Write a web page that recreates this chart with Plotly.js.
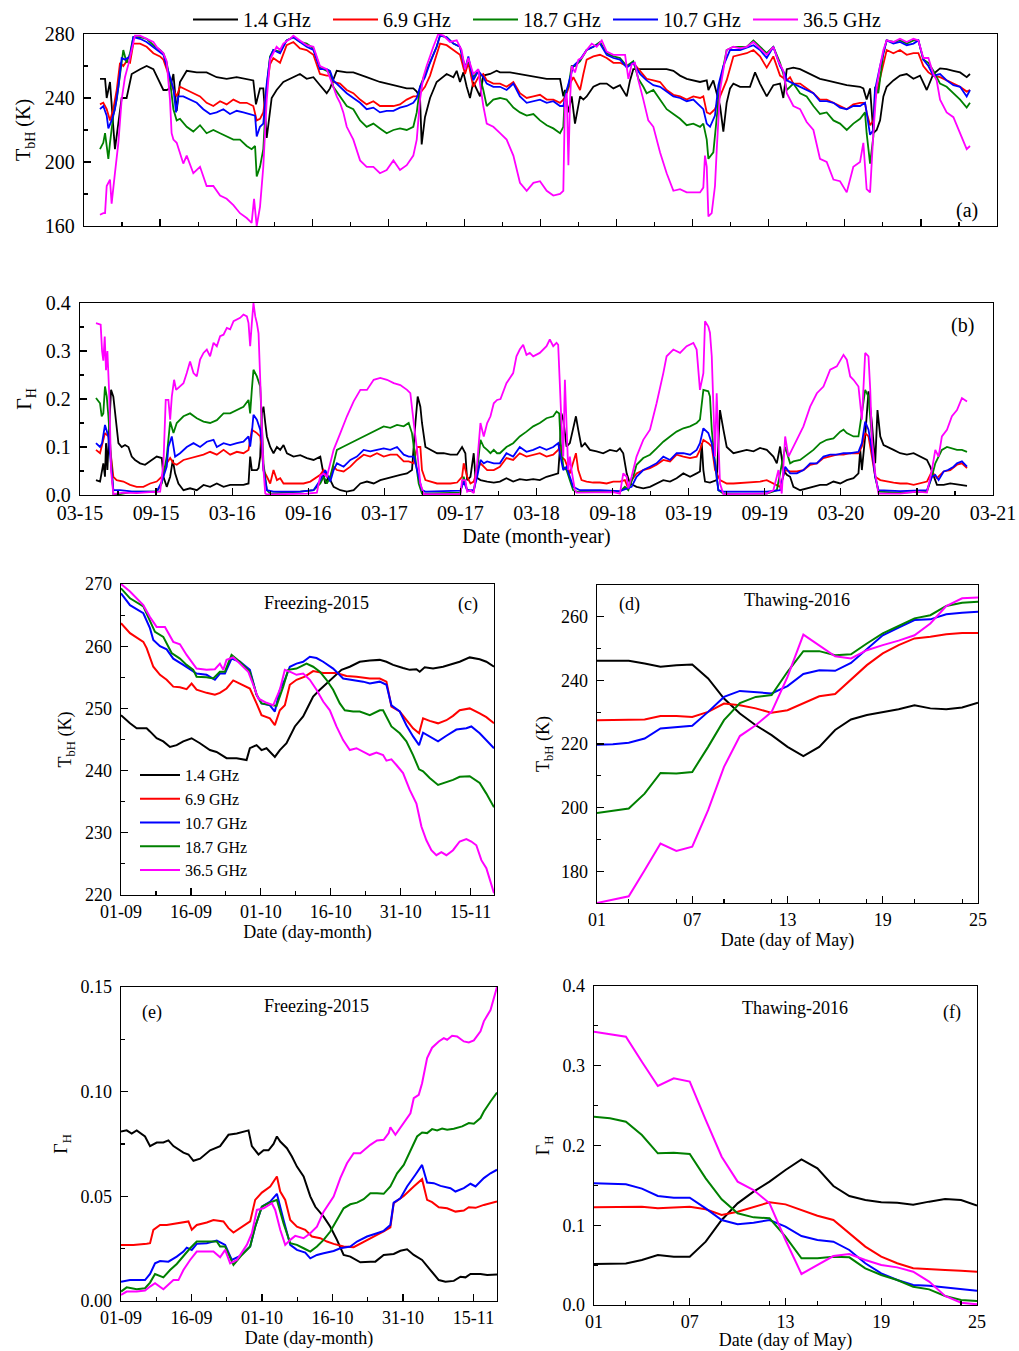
<!DOCTYPE html>
<html><head><meta charset="utf-8">
<script src="https://cdn.plot.ly/plotly-3.0.1.min.js"></script>
<style>body{margin:0;background:#fff}#chart{width:1019px;height:1351px}</style>
</head><body><div id="chart"></div>
<script>
// ---------- DATA ----------
// Panels (a),(b): x = months since March 2015
const monthTickVals = [0,6,12,18,24,30,36,42,48,54,60,66,72];
const monthTickText = ['03-15','09-15','03-16','09-16','03-17','09-17','03-18','09-18','03-19','09-19','03-20','09-20','03-21'];
const seriesNames = ['1.4 GHz','6.9 GHz','10.7 GHz','18.7 GHz','36.5 GHz'];

// (a) TbH (K)
const aBlack = [[1.26,252],[1.66,252],[1.79,240],[2.05,250],[2.44,208],[2.97,240],[3.36,240],[3.76,255],[4.42,258],[4.94,260],[5.47,258],[5.99,250],[6.26,245],[6.52,245],[6.78,246],[7.05,255],[7.31,232],[7.57,250],[8.10,257],[8.89,256],[9.67,256],[10.46,253],[11.25,252],[12.04,253],[12.83,252],[13.35,251],[13.56,236],[13.88,246],[14.14,246],[14.41,215],[14.80,240],[15.19,245],[15.72,250],[16.51,253],[17.03,255],[17.56,252],[18.09,253],[18.61,248],[19.14,243],[19.40,246],[19.66,252],[19.93,257],[20.72,256],[21.24,256],[22.29,253],[23.34,250],[24.40,248],[25.45,246],[25.97,246],[26.24,244],[26.50,240],[26.63,211],[26.89,228],[27.29,240],[27.81,250],[28.60,255],[29.13,253],[29.39,257],[29.65,250],[29.92,256],[30.18,247],[30.44,240],[30.70,250],[31.23,241],[31.49,254],[32.02,255],[32.54,257],[32.81,256],[33.60,256],[34.38,255],[35.44,253.5],[36.49,252],[37.54,252],[37.80,241],[37.93,245],[38.20,231],[38.46,241],[38.72,224],[39.12,241],[39.38,239],[39.64,241],[40.17,247],[40.69,249],[41.22,249],[41.75,246],[42.27,248],[42.80,241],[43.06,251],[43.32,258],[44.37,258],[45.95,258],[46.48,257],[47.00,254],[47.53,252],[48.05,251],[48.58,250],[49.11,251],[49.24,245],[49.63,251],[50.16,235],[50.42,219],[50.68,237],[50.95,246],[51.21,249],[51.74,247],[52.52,247],[52.92,256],[53.31,249],[53.84,241],[54.36,248],[54.89,249],[55.15,240],[55.42,258],[55.94,259],[56.47,258],[56.99,256],[57.52,254],[58.04,252],[58.57,251],[59.10,250],[59.62,249],[60.15,248],[61.20,247],[61.46,246],[61.72,239],[61.99,246],[62.25,218],[62.51,220],[62.78,226],[63.04,241],[63.30,247],[63.83,251],[64.35,254],[64.88,255],[65.41,252],[65.93,254],[66.46,245],[66.98,255],[67.51,258.5],[68.03,258],[68.56,257],[69.09,256],[69.61,253],[69.87,255]];
const aRed = [[1.26,236],[1.52,237],[1.79,233],[2.05,226],[2.31,233],[2.58,245],[2.84,262],[3.10,260],[3.36,263],[3.63,262],[3.89,274],[4.42,274],[4.94,272],[5.47,268],[5.99,266],[6.26,264],[6.52,258],[6.78,251],[7.05,245],[7.31,241],[7.57,247],[8.10,245],[8.62,243],[9.15,241],[9.67,237],[10.20,235],[10.73,238],[11.25,236],[11.78,239],[12.30,237],[12.83,237],[13.35,235],[13.62,226],[13.88,227],[14.14,231],[14.41,247],[14.67,261],[14.93,265],[15.46,262],[15.98,273],[16.51,275],[17.03,271],[17.56,270],[18.09,267],[18.61,255],[19.14,254],[19.40,254],[19.66,250],[20.19,249],[20.72,245],[21.24,243],[21.77,239],[22.29,236],[22.82,238],[23.34,235],[23.87,235],[24.40,235],[24.92,236],[25.45,239],[25.97,241],[26.24,241],[26.50,243],[26.89,247],[27.29,254],[27.81,268],[28.08,274],[28.60,273],[29.13,270],[29.65,267],[30.05,255],[30.31,262],[30.70,247],[31.10,253],[31.49,255],[31.76,251],[32.28,249],[32.81,249],[33.33,247],[33.86,250],[34.38,243],[34.91,240],[35.44,241],[35.96,242],[36.49,239],[37.01,239],[37.54,237],[37.80,239],[38.07,243],[38.33,249],[38.59,253],[39.12,245],[39.38,255],[39.64,264],[40.17,266],[40.69,267],[41.22,265],[41.75,262],[42.27,262],[42.80,260],[43.32,262],[43.85,257],[44.37,252],[44.90,251],[45.43,250],[45.95,245],[46.48,242],[47.00,241],[47.53,239],[48.05,241],[48.58,240],[48.84,241],[49.11,231],[49.37,230],[49.76,233],[50.16,241],[50.68,251],[51.21,266],[51.74,267],[52.26,268],[52.79,270],[53.31,266],[53.84,259],[54.36,266],[54.89,254],[55.42,251],[55.68,253],[55.94,249],[56.47,249],[56.99,246],[57.52,243],[58.04,239],[58.57,239],[59.10,237],[59.62,235],[60.15,233],[60.67,236],[61.20,237],[61.59,237],[61.72,231],[61.99,223],[62.25,226],[62.38,239],[62.78,253],[63.30,270],[63.83,268],[64.35,270],[64.88,267],[65.41,268],[65.80,268],[66.19,260],[66.59,256],[66.98,254],[67.51,253],[68.03,251],[68.56,249],[69.09,247],[69.61,244],[69.87,245]];
const aBlue = [[1.26,233],[1.52,235],[1.79,229],[1.92,221],[2.18,226],[2.44,233],[2.71,247],[2.97,265],[3.23,264],[3.63,266],[3.89,278],[4.42,277],[4.94,275],[5.47,272],[5.99,269],[6.26,267],[6.52,260],[6.78,253],[7.05,246],[7.26,231],[7.44,241],[7.83,241],[8.36,239],[8.89,237],[9.41,233],[9.94,230],[10.46,231],[10.99,233],[11.51,230],[12.04,232],[12.57,231],[13.09,230],[13.49,229],[13.62,216],[13.88,222],[14.14,224],[14.41,249],[14.67,265],[14.93,270],[15.46,268],[15.98,276],[16.51,278],[17.03,275],[17.56,272],[18.09,270],[18.61,258],[19.14,258],[19.40,257],[19.66,251],[20.19,247],[20.72,243],[21.24,240],[21.77,237],[22.29,233],[22.82,234],[23.34,231],[23.87,232],[24.40,232],[24.92,234],[25.45,235],[25.97,237],[26.24,240],[26.50,247],[26.89,253],[27.29,262],[27.81,272],[28.08,279],[28.60,278],[29.13,274],[29.65,272],[30.05,258],[30.31,266],[30.70,251],[31.10,257],[31.49,253],[31.76,249],[32.28,247],[32.81,247],[33.33,245],[33.86,249],[34.38,241],[34.91,237],[35.44,238],[35.96,239],[36.49,237],[37.01,238],[37.54,235],[37.80,235],[38.07,245],[38.33,253],[38.59,260],[39.12,264],[39.64,270],[40.17,272],[40.69,274],[41.22,267],[41.75,265],[42.27,264],[42.80,259],[43.32,262],[43.85,255],[44.37,251],[44.90,248],[45.43,247],[45.95,244],[46.48,241],[47.00,240],[47.53,238],[48.05,239],[48.58,235],[48.84,233],[49.11,224],[49.37,222],[49.76,229],[50.03,248],[50.42,260],[50.95,270],[51.74,270],[52.79,273],[53.31,270],[53.84,265],[54.36,272],[54.89,260],[55.28,255],[55.42,251],[55.94,249],[56.47,247],[56.99,245],[57.52,243],[58.04,238],[58.57,238],[59.10,237],[59.62,234],[60.15,233],[60.67,235],[61.20,235],[61.59,237],[61.72,231],[61.99,217],[62.25,220],[62.38,245],[62.78,260],[63.30,276],[63.83,274],[64.35,275],[64.88,273],[65.41,274],[65.80,276],[66.19,264],[66.59,260],[66.98,254],[67.51,255],[68.03,251],[68.56,248],[69.09,247],[69.61,241],[69.87,245]];
const aGreen = [[1.26,208],[1.52,212],[1.66,218],[1.79,210],[1.92,202],[2.05,212],[2.31,229],[2.58,239],[2.84,253],[3.10,270],[3.36,262],[3.63,268],[3.89,278],[4.42,278],[4.94,277],[5.47,273],[5.99,270],[6.26,268],[6.52,262],[6.78,251],[7.05,233],[7.31,226],[7.57,227],[8.10,222],[8.62,219],[9.15,223],[9.67,218],[10.20,220],[10.73,218],[11.25,216],[11.78,214],[12.30,214],[12.83,210],[13.22,208],[13.49,210],[13.62,191],[13.88,197],[14.14,208],[14.41,247],[14.67,266],[14.93,270],[15.46,269],[15.98,276],[16.51,278],[17.03,275],[17.56,274],[18.09,271],[18.61,259],[19.14,257],[19.40,256],[19.66,247],[20.19,241],[20.72,235],[21.24,233],[21.77,226],[22.29,222],[22.82,224],[23.34,221],[23.87,218],[24.40,220],[24.92,221],[25.45,220],[25.97,222],[26.24,231],[26.50,247],[26.89,255],[27.29,262],[27.81,272],[28.08,279],[28.60,278],[29.13,274],[29.65,272],[30.05,259],[30.31,264],[30.70,253],[31.10,257],[31.49,245],[31.76,235],[32.28,239],[32.81,240],[33.33,239],[33.86,234],[34.38,231],[34.91,229],[35.44,230],[35.96,226],[36.49,223],[37.01,221],[37.54,218],[37.80,222],[37.93,243],[38.20,247],[38.46,260],[38.72,260],[39.12,263],[39.64,270],[40.17,272],[40.69,275],[41.22,268],[41.75,266],[42.27,265],[42.80,260],[43.32,263],[43.72,252],[44.11,247],[44.37,243],[44.90,245],[45.43,239],[45.95,233],[46.48,230],[47.00,227],[47.53,223],[48.05,224],[48.58,222],[48.84,224],[49.11,214],[49.24,202],[49.63,206],[49.90,229],[50.16,249],[50.68,270],[51.21,272],[51.74,272],[52.26,272],[52.79,276],[53.31,272],[53.84,268],[54.36,272],[54.89,262],[55.15,255],[55.42,245],[55.94,249],[56.47,243],[56.99,241],[57.52,235],[58.04,230],[58.57,231],[59.10,226],[59.62,224],[60.15,220],[60.67,224],[61.20,227],[61.59,231],[61.72,218],[61.99,199],[62.25,216],[62.38,247],[62.64,243],[63.04,268],[63.30,276],[63.83,275],[64.35,276],[64.88,274],[65.41,276],[65.80,276],[66.19,264],[66.59,262],[66.98,257],[67.51,249],[68.03,247],[68.56,243],[69.09,239],[69.61,234],[69.87,237]];
const aMagenta = [[1.26,167],[1.52,168],[1.66,168],[1.79,185],[2.05,189],[2.18,174],[2.44,193],[2.71,212],[2.97,239],[3.23,253],[3.50,261],[3.76,270],[4.02,279],[4.42,279],[4.94,277],[5.47,275],[5.73,272],[5.99,270],[6.26,268],[6.52,263],[6.65,253],[6.78,239],[6.91,218],[7.05,214],[7.31,212],[7.57,206],[7.83,199],[8.10,204],[8.62,193],[9.15,197],[9.67,185],[10.20,185],[10.73,179],[11.25,177],[11.78,173],[12.30,168],[12.83,165],[13.22,162],[13.41,177],[13.62,160],[13.88,172],[14.14,197],[14.41,239],[14.67,264],[14.93,268],[15.19,272],[15.46,270],[15.72,274],[16.25,277],[16.51,279],[17.03,276],[17.56,273],[18.09,272],[18.61,260],[19.14,258],[19.40,253],[19.66,247],[19.93,241],[20.19,237],[20.45,231],[20.72,222],[21.24,214],[21.77,201],[22.29,197],[22.82,197],[23.34,193],[23.87,195],[24.40,201],[24.92,195],[25.45,198],[25.97,204],[26.24,214],[26.50,239],[26.76,253],[27.02,260],[27.55,272],[27.94,280],[28.34,279],[28.86,275],[29.39,276],[29.78,270],[30.05,258],[30.31,265],[30.70,255],[31.10,258],[31.23,249],[31.49,235],[31.76,224],[32.28,222],[32.81,218],[33.33,214],[33.86,204],[34.38,187],[34.91,182],[35.44,187],[35.96,188],[36.49,182],[37.01,179],[37.54,180],[37.80,182],[37.93,239],[38.07,243],[38.20,198],[38.33,239],[38.46,260],[38.72,256],[38.99,264],[39.25,265],[39.64,270],[40.04,274],[40.43,272],[40.83,276],[41.22,269],[41.75,267],[42.27,267],[42.67,267],[42.93,252],[43.19,261],[43.45,262],[43.72,251],[44.11,239],[44.50,226],[44.90,222],[45.43,206],[45.95,193],[46.48,182],[47.00,183],[47.53,181],[48.05,181],[48.58,181],[48.84,184],[48.97,204],[49.11,197],[49.24,166],[49.50,168],[49.76,185],[49.90,208],[50.16,245],[50.68,270],[51.21,272],[51.74,271],[52.26,272],[52.79,275],[53.31,271],[53.84,267],[54.36,272],[54.76,263],[55.15,257],[55.42,243],[55.94,235],[56.47,233],[56.99,225],[57.52,220],[58.04,202],[58.57,200],[59.10,189],[59.62,188],[60.15,181],[60.67,197],[61.20,200],[61.46,212],[61.72,183],[61.99,181],[62.25,218],[62.51,247],[62.78,260],[63.04,270],[63.30,276],[63.83,275],[64.35,277],[64.88,275],[65.41,277],[65.80,276],[66.19,265],[66.59,265],[66.98,255],[67.24,251],[67.51,239],[68.03,231],[68.56,228],[69.09,218],[69.61,208],[69.87,210]];

// (b) Gamma_H
const bBlack = [[1.26,0.031],[1.58,0.028],[1.84,0.066],[1.97,0.038],[2.05,0.108],[2.16,0.052],[2.32,0.150],[2.45,0.219],[2.63,0.205],[2.84,0.150],[3.03,0.108],[3.29,0.100],[3.55,0.104],[3.82,0.100],[4.08,0.080],[4.34,0.073],[4.74,0.066],[5.13,0.063],[5.53,0.070],[6.05,0.080],[6.45,0.077],[6.58,0.038],[6.84,0.017],[7.11,0.038],[7.32,0.073],[7.50,0.045],[7.76,0.024],[8.16,0.010],[8.68,0.014],[9.21,0.010],[9.74,0.021],[10.26,0.017],[10.79,0.024],[11.32,0.017],[11.84,0.021],[12.37,0.021],[12.89,0.021],[13.29,0.024],[13.42,0.080],[13.55,0.052],[13.95,0.052],[14.08,0.056],[14.21,0.080],[14.34,0.170],[14.47,0.184],[14.61,0.150],[14.74,0.122],[15.00,0.100],[15.26,0.087],[15.53,0.100],[15.79,0.094],[16.05,0.104],[16.32,0.087],[16.84,0.080],[17.37,0.083],[17.89,0.077],[18.42,0.073],[18.95,0.080],[19.21,0.045],[19.34,0.024],[19.61,0.038],[20.00,0.017],[20.53,0.010],[21.05,0.007],[21.58,0.010],[22.11,0.024],[22.63,0.028],[23.16,0.024],[23.68,0.031],[24.21,0.035],[24.74,0.038],[25.26,0.042],[25.79,0.045],[26.18,0.052],[26.45,0.150],[26.63,0.205],[26.84,0.184],[26.97,0.150],[27.24,0.100],[27.63,0.094],[28.16,0.087],[28.68,0.087],[29.21,0.084],[29.74,0.084],[30.13,0.100],[30.39,0.087],[30.53,0.031],[30.79,0.038],[31.05,0.087],[31.18,0.038],[31.58,0.031],[32.11,0.028],[32.63,0.026],[33.11,0.028],[33.63,0.035],[34.16,0.028],[34.68,0.033],[35.21,0.031],[35.74,0.033],[36.26,0.031],[36.79,0.038],[37.32,0.042],[37.71,0.045],[37.84,0.094],[37.97,0.170],[38.11,0.157],[38.24,0.129],[38.37,0.101],[38.63,0.108],[38.89,0.136],[39.11,0.164],[39.29,0.136],[39.55,0.100],[39.82,0.108],[40.21,0.094],[40.74,0.091],[41.26,0.087],[41.79,0.094],[42.32,0.091],[42.58,0.097],[42.84,0.087],[43.11,0.045],[43.37,0.024],[43.89,0.017],[44.42,0.014],[44.95,0.017],[45.47,0.024],[46.00,0.031],[46.53,0.028],[47.05,0.035],[47.58,0.045],[48.11,0.038],[48.63,0.045],[48.89,0.049],[49.03,0.108],[49.16,0.052],[49.29,0.028],[49.68,0.026],[50.21,0.031],[50.47,0.177],[50.74,0.136],[51.00,0.100],[51.53,0.087],[52.05,0.091],[52.58,0.094],[53.11,0.091],[53.63,0.098],[54.16,0.094],[54.68,0.080],[54.95,0.066],[55.21,0.101],[55.47,0.052],[55.74,0.042],[56.00,0.038],[56.26,0.017],[56.79,0.010],[57.32,0.014],[57.84,0.017],[58.37,0.021],[58.89,0.021],[59.42,0.028],[59.95,0.024],[60.47,0.031],[61.00,0.035],[61.39,0.045],[61.53,0.094],[61.66,0.052],[61.92,0.122],[62.18,0.216],[62.45,0.150],[62.71,0.066],[62.89,0.177],[63.11,0.122],[63.37,0.104],[63.63,0.101],[64.16,0.094],[64.68,0.087],[65.21,0.084],[65.74,0.087],[66.26,0.080],[66.79,0.073],[67.05,0.059],[67.32,0.038],[67.58,0.021],[68.11,0.021],[68.63,0.024],[69.16,0.022],[69.55,0.021],[69.95,0.019]];
const bRed = [[1.26,0.094],[1.58,0.087],[1.97,0.129],[2.24,0.122],[2.45,0.080],[2.63,0.038],[2.89,0.031],[3.42,0.028],[3.95,0.021],[4.47,0.017],[5.00,0.017],[5.53,0.024],[6.05,0.028],[6.45,0.038],[6.84,0.066],[7.11,0.077],[7.37,0.066],[7.63,0.063],[8.16,0.073],[8.68,0.077],[9.21,0.080],[9.74,0.084],[10.26,0.090],[10.79,0.084],[11.32,0.094],[11.84,0.084],[12.37,0.090],[12.89,0.087],[13.29,0.094],[13.55,0.136],[13.95,0.129],[14.21,0.122],[14.34,0.094],[14.47,0.052],[14.74,0.038],[15.00,0.024],[15.26,0.052],[15.53,0.031],[15.79,0.035],[16.05,0.024],[16.58,0.024],[17.11,0.024],[17.63,0.024],[18.16,0.028],[18.68,0.038],[18.95,0.042],[19.21,0.052],[19.47,0.038],[19.74,0.038],[20.00,0.059],[20.26,0.052],[20.79,0.049],[21.32,0.059],[21.84,0.073],[22.37,0.084],[22.89,0.080],[23.42,0.087],[23.95,0.080],[24.47,0.084],[25.00,0.084],[25.53,0.070],[25.92,0.070],[26.32,0.066],[26.58,0.100],[26.84,0.100],[26.97,0.052],[27.24,0.031],[27.63,0.028],[28.16,0.024],[28.68,0.024],[29.21,0.024],[29.74,0.026],[30.13,0.038],[30.26,0.066],[30.53,0.038],[30.79,0.024],[31.05,0.028],[31.32,0.052],[31.58,0.066],[32.11,0.052],[32.63,0.052],[33.11,0.059],[33.63,0.077],[34.16,0.073],[34.68,0.087],[35.21,0.080],[35.74,0.084],[36.26,0.087],[36.79,0.080],[37.32,0.084],[37.71,0.094],[37.84,0.101],[37.97,0.080],[38.24,0.073],[38.63,0.045],[38.89,0.066],[39.11,0.087],[39.29,0.052],[39.55,0.031],[39.95,0.028],[40.47,0.026],[41.00,0.026],[41.53,0.024],[42.05,0.028],[42.58,0.028],[42.97,0.031],[43.24,0.014],[43.50,0.031],[43.89,0.045],[44.42,0.052],[44.95,0.056],[45.47,0.063],[46.00,0.073],[46.53,0.070],[47.05,0.084],[47.58,0.080],[48.11,0.077],[48.63,0.080],[48.89,0.094],[49.16,0.115],[49.55,0.108],[49.82,0.101],[50.08,0.052],[50.47,0.031],[51.00,0.024],[51.53,0.024],[52.58,0.026],[53.63,0.028],[54.16,0.031],[54.68,0.024],[55.21,0.017],[55.61,0.052],[56.00,0.049],[56.53,0.049],[57.05,0.052],[57.58,0.063],[58.11,0.066],[58.63,0.077],[59.16,0.080],[59.68,0.084],[60.21,0.084],[60.74,0.087],[61.39,0.087],[61.66,0.101],[61.92,0.129],[62.18,0.122],[62.45,0.080],[62.71,0.038],[63.11,0.031],[63.63,0.028],[64.16,0.026],[64.68,0.024],[65.21,0.024],[65.74,0.021],[66.26,0.024],[66.79,0.028],[67.18,0.049],[67.58,0.035],[68.11,0.049],[68.63,0.052],[69.16,0.063],[69.55,0.066],[69.95,0.056]];
const bBlue = [[1.26,0.108],[1.58,0.100],[1.74,0.108],[1.97,0.146],[2.24,0.122],[2.45,0.052],[2.63,0.010],[3.16,0.010],[4.21,0.007],[5.26,0.007],[6.05,0.007],[6.45,0.028],[6.84,0.059],[6.97,0.100],[7.24,0.122],[7.50,0.080],[7.89,0.087],[8.42,0.100],[8.95,0.108],[9.47,0.100],[10.00,0.111],[10.53,0.115],[10.79,0.100],[11.32,0.108],[11.84,0.104],[12.37,0.108],[12.89,0.111],[13.29,0.122],[13.42,0.101],[13.55,0.129],[13.68,0.167],[13.95,0.157],[14.21,0.136],[14.34,0.108],[14.47,0.052],[14.74,0.010],[15.26,0.007],[17.37,0.007],[18.42,0.010],[18.95,0.031],[19.34,0.052],[19.74,0.028],[20.00,0.052],[20.26,0.066],[20.79,0.059],[21.32,0.073],[21.84,0.080],[22.37,0.094],[22.89,0.091],[23.42,0.094],[23.95,0.097],[24.47,0.094],[25.00,0.100],[25.53,0.084],[25.92,0.080],[26.32,0.080],[26.71,0.038],[26.97,0.010],[27.24,0.007],[30.00,0.009],[30.26,0.028],[30.53,0.010],[31.05,0.010],[31.32,0.038],[31.58,0.073],[31.84,0.066],[32.11,0.070],[32.63,0.066],[33.11,0.066],[33.63,0.087],[34.16,0.080],[34.68,0.100],[35.21,0.090],[35.74,0.094],[36.26,0.100],[36.79,0.094],[37.32,0.100],[37.71,0.108],[37.89,0.080],[38.11,0.052],[38.37,0.059],[38.63,0.038],[38.89,0.017],[39.42,0.010],[41.00,0.010],[42.58,0.008],[43.11,0.014],[43.50,0.017],[43.89,0.038],[44.42,0.052],[44.95,0.059],[45.47,0.066],[46.00,0.080],[46.53,0.073],[47.05,0.087],[47.58,0.087],[48.11,0.084],[48.63,0.094],[48.89,0.108],[49.16,0.139],[49.55,0.129],[49.82,0.108],[50.08,0.066],[50.34,0.010],[50.74,0.007],[54.16,0.007],[55.21,0.010],[55.61,0.059],[56.00,0.045],[56.53,0.045],[57.05,0.052],[57.58,0.066],[58.11,0.066],[58.63,0.080],[59.16,0.084],[59.68,0.084],[60.21,0.087],[60.74,0.087],[61.39,0.090],[61.66,0.108],[61.92,0.153],[62.18,0.136],[62.45,0.094],[62.71,0.038],[62.97,0.010],[64.68,0.008],[66.79,0.010],[67.18,0.038],[67.45,0.042],[67.71,0.031],[68.11,0.049],[68.45,0.052],[68.89,0.059],[69.16,0.066],[69.55,0.070],[69.95,0.059]];
const bGreen = [[1.26,0.202],[1.58,0.191],[1.71,0.164],[1.84,0.170],[1.97,0.226],[2.11,0.205],[2.24,0.164],[2.45,0.066],[2.63,0.002],[3.16,0.002],[4.21,0.007],[5.26,0.007],[6.05,0.007],[6.45,0.024],[6.84,0.080],[7.11,0.153],[7.37,0.129],[7.63,0.150],[8.16,0.164],[8.68,0.170],[9.21,0.160],[9.74,0.153],[10.26,0.150],[10.79,0.156],[11.32,0.170],[11.84,0.170],[12.37,0.177],[12.89,0.184],[13.29,0.198],[13.42,0.170],[13.55,0.219],[13.68,0.261],[13.95,0.247],[14.21,0.226],[14.34,0.150],[14.47,0.066],[14.74,0.010],[15.00,0.003],[17.37,0.007],[18.42,0.010],[18.95,0.024],[19.21,0.038],[19.47,0.024],[19.74,0.038],[20.00,0.066],[20.26,0.094],[20.79,0.101],[21.32,0.108],[21.84,0.115],[22.37,0.122],[22.89,0.129],[23.42,0.136],[23.95,0.143],[24.47,0.140],[25.00,0.146],[25.53,0.143],[25.92,0.150],[26.18,0.129],[26.45,0.080],[26.71,0.024],[26.97,0.003],[30.00,0.005],[30.26,0.038],[30.53,0.010],[31.05,0.007],[31.32,0.052],[31.58,0.115],[31.84,0.100],[32.11,0.094],[32.37,0.087],[32.63,0.094],[32.89,0.087],[33.11,0.087],[33.63,0.100],[34.16,0.108],[34.68,0.122],[35.21,0.132],[35.74,0.143],[36.26,0.150],[36.79,0.160],[37.32,0.164],[37.58,0.174],[37.79,0.170],[37.89,0.115],[38.11,0.059],[38.37,0.052],[38.63,0.031],[38.89,0.010],[39.16,0.007],[41.00,0.007],[42.58,0.007],[42.97,0.017],[43.24,0.010],[43.63,0.038],[43.89,0.063],[44.42,0.077],[44.95,0.084],[45.47,0.097],[46.00,0.111],[46.53,0.122],[47.05,0.132],[47.58,0.139],[48.11,0.143],[48.63,0.150],[48.89,0.157],[49.16,0.219],[49.55,0.216],[49.68,0.205],[49.82,0.136],[50.08,0.066],[50.34,0.010],[50.74,0.003],[54.16,0.003],[54.95,0.010],[55.34,0.066],[55.61,0.100],[56.00,0.066],[56.26,0.070],[56.79,0.073],[57.32,0.084],[57.84,0.094],[58.37,0.108],[58.89,0.115],[59.42,0.118],[59.95,0.132],[60.21,0.136],[60.47,0.129],[61.00,0.122],[61.39,0.122],[61.66,0.170],[61.92,0.219],[62.18,0.205],[62.45,0.115],[62.71,0.038],[62.97,0.007],[64.68,0.005],[66.79,0.007],[67.18,0.038],[67.45,0.066],[67.71,0.080],[67.97,0.094],[68.37,0.100],[68.76,0.097],[69.16,0.094],[69.55,0.094],[69.95,0.090]];
const bMagenta = [[1.26,0.358],[1.63,0.355],[1.74,0.300],[1.84,0.280],[1.95,0.330],[2.05,0.260],[2.16,0.300],[2.32,0.200],[2.45,0.050],[2.63,0.002],[3.42,0.005],[4.47,0.004],[5.53,0.006],[6.32,0.007],[6.58,0.066],[6.76,0.198],[6.97,0.198],[7.11,0.157],[7.24,0.205],[7.42,0.240],[7.58,0.219],[7.89,0.226],[8.16,0.233],[8.42,0.254],[8.68,0.278],[8.95,0.254],[9.21,0.247],[9.47,0.282],[9.74,0.296],[10.00,0.303],[10.26,0.289],[10.53,0.317],[10.79,0.310],[11.05,0.331],[11.32,0.334],[11.58,0.348],[11.84,0.345],[12.11,0.362],[12.37,0.365],[12.63,0.369],[12.89,0.376],[13.16,0.372],[13.29,0.358],[13.42,0.310],[13.55,0.358],[13.68,0.400],[13.82,0.372],[13.95,0.358],[14.08,0.337],[14.21,0.254],[14.34,0.150],[14.47,0.052],[14.61,0.003],[14.74,0.001],[17.89,0.003],[18.68,0.005],[18.95,0.040],[19.21,0.045],[19.47,0.038],[19.74,0.066],[20.00,0.094],[20.53,0.129],[21.05,0.164],[21.58,0.195],[22.11,0.219],[22.63,0.219],[23.16,0.240],[23.68,0.244],[24.21,0.240],[24.74,0.233],[25.26,0.229],[25.79,0.219],[26.05,0.212],[26.32,0.150],[26.58,0.094],[26.84,0.024],[27.11,0.002],[30.00,0.002],[30.13,0.031],[30.39,0.031],[30.53,0.007],[30.79,0.010],[31.05,0.004],[31.32,0.066],[31.58,0.150],[31.84,0.122],[32.11,0.150],[32.37,0.164],[32.63,0.191],[32.89,0.198],[33.16,0.200],[33.63,0.233],[34.16,0.254],[34.42,0.289],[34.68,0.303],[34.95,0.313],[35.21,0.292],[35.47,0.296],[35.74,0.289],[36.26,0.296],[36.79,0.310],[37.05,0.324],[37.32,0.310],[37.58,0.317],[37.71,0.313],[37.97,0.150],[38.11,0.080],[38.24,0.240],[38.37,0.136],[38.50,0.052],[38.63,0.080],[38.76,0.052],[39.03,0.010],[39.16,0.005],[42.05,0.006],[42.58,0.003],[42.84,0.045],[43.11,0.038],[43.24,0.014],[43.50,0.038],[43.89,0.080],[44.42,0.115],[44.95,0.136],[45.47,0.191],[46.00,0.254],[46.26,0.289],[46.79,0.303],[47.32,0.296],[47.84,0.310],[48.37,0.317],[48.63,0.303],[48.89,0.219],[49.16,0.254],[49.29,0.362],[49.55,0.351],[49.68,0.338],[49.82,0.289],[49.95,0.184],[50.08,0.080],[50.21,0.212],[50.34,0.115],[50.47,0.024],[50.74,0.002],[54.16,0.003],[54.68,0.010],[55.08,0.052],[55.34,0.003],[55.61,0.122],[55.87,0.080],[56.13,0.094],[56.53,0.115],[57.05,0.143],[57.58,0.184],[58.11,0.212],[58.63,0.226],[59.16,0.261],[59.68,0.268],[60.21,0.292],[60.47,0.282],[60.74,0.247],[61.00,0.240],[61.39,0.226],[61.66,0.157],[61.92,0.296],[62.18,0.289],[62.32,0.219],[62.45,0.115],[62.71,0.045],[62.97,0.003],[64.68,0.003],[66.00,0.007],[66.79,0.005],[67.18,0.052],[67.45,0.094],[67.71,0.080],[67.97,0.122],[68.37,0.136],[68.76,0.164],[69.16,0.177],[69.55,0.202],[69.95,0.195]];

// Panels (c),(e): x = days since 1 September 2015
const fallTickVals = [0,15,30,45,60,75];
const fallTickText = ['01-09','16-09','01-10','16-10','31-10','15-11'];
const cBlack = [[0,248.9],[1.93,247.6],[3.36,246.8],[5.5,246.8],[6.21,246.3],[7.64,245.2],[9.07,244.7],[10.5,243.8],[11.93,244.1],[13.36,244.7],[15.14,245.2],[16.93,244.4],[19.07,243.3],[20.5,243.0],[22.64,242.0],[24.79,242.0],[26.93,241.7],[27.64,243.6],[29.07,244.1],[30.14,243.3],[31.21,243.6],[33.0,242.2],[34.07,243.3],[35.5,244.4],[37.29,247.1],[39.07,248.7],[40.14,250.3],[41.21,251.9],[42.64,253.0],[44.07,254.0],[45.5,255.1],[47.29,256.2],[49.07,256.7],[51.21,257.5],[53.36,257.7],[55.5,257.8],[56.93,257.5],[58.36,257.0],[60.5,256.5],[61.93,256.2],[63.36,256.3],[64.07,255.9],[65.14,256.6],[66.93,256.4],[69.07,256.7],[70.5,257.0],[72.64,257.5],[74.79,258.2],[76.93,257.9],[78.36,257.5],[80,256.7]];
const cRed = [[0,263.7],[1.93,262.1],[4.79,260.7],[5.5,259.7],[6.93,256.7],[8.36,255.4],[9.79,254.6],[11.21,253.5],[12.64,253.4],[14.07,253.1],[15.14,254.0],[16.21,253.0],[18.36,252.5],[20.14,252.2],[21.21,252.5],[22.64,253.2],[24.07,254.5],[25.5,254.0],[27.64,253.2],[29.07,250.8],[30.14,248.9],[31.93,248.4],[33.0,247.3],[34.07,249.7],[35.14,250.5],[36.21,253.8],[37.64,254.6],[39.43,255.1],[41.21,256.0],[43.36,255.7],[46.21,255.7],[48.36,255.2],[50.5,255.1],[53.36,254.8],[55.5,254.8],[56.93,254.3],[58.0,250.3],[59.79,249.5],[61.21,248.1],[62.64,246.8],[63.93,246.0],[64.79,248.4],[66.21,248.0],[68.0,247.6],[69.79,248.1],[71.21,248.8],[72.64,249.7],[74.79,250.0],[76.93,249.2],[78.36,248.6],[80,247.6]];
const cBlue = [[0,268.5],[1.93,266.6],[4.79,265.3],[6.21,262.9],[6.93,261.0],[8.36,260.0],[9.79,259.5],[11.21,258.0],[13.36,257.0],[15.14,256.2],[16.21,255.6],[18.36,255.4],[20.14,254.6],[21.21,255.6],[22.29,255.6],[23.71,258.0],[25.5,257.5],[27.64,256.2],[29.07,252.2],[30.14,250.8],[31.93,250.5],[33.0,249.5],[34.07,253.0],[35.14,254.6],[36.21,256.7],[37.64,257.2],[39.07,257.5],[40.5,258.3],[41.93,258.1],[43.36,257.5],[45.5,256.4],[47.64,254.8],[49.79,254.6],[51.93,254.3],[53.36,254.0],[55.5,254.3],[56.93,253.8],[58.0,250.5],[59.79,249.5],[61.21,247.3],[62.64,245.5],[63.93,244.1],[64.79,246.1],[66.21,245.5],[68.0,244.7],[69.79,245.6],[71.93,246.6],[74.07,246.8],[75.14,247.1],[76.93,246.0],[78.36,244.9],[80,243.6]];
const cGreen = [[0,269.3],[1.93,267.7],[4.79,266.4],[6.21,264.2],[7.29,262.3],[9.07,261.5],[10.86,258.9],[12.64,258.0],[14.07,257.0],[15.5,256.2],[16.21,255.1],[18.36,255.0],[19.79,254.8],[21.21,255.9],[22.29,255.9],[23.71,258.6],[25.5,257.5],[27.64,255.9],[29.07,252.2],[30.14,250.8],[31.93,250.6],[33.36,250.4],[34.79,253.5],[35.86,256.2],[37.64,256.4],[39.79,257.2],[41.21,256.7],[42.64,255.9],[44.07,254.6],[45.5,253.0],[46.93,250.8],[48.0,249.7],[49.79,249.5],[51.21,249.5],[53.36,248.9],[55.5,249.7],[56.21,249.7],[58.0,247.1],[59.79,246.0],[61.21,244.7],[62.64,242.5],[63.93,240.2],[64.79,239.9],[66.21,238.8],[68.0,237.7],[69.79,238.1],[71.21,238.5],[72.64,239.0],[74.79,239.1],[76.93,238.0],[78.36,236.3],[80,234.1]];
const cMagenta = [[0,270.0],[1.93,268.8],[4.79,266.6],[6.21,264.7],[7.64,263.1],[9.43,263.1],[11.21,260.7],[12.64,260.3],[14.07,258.6],[16.21,256.4],[18.36,256.2],[20.14,256.3],[21.21,257.2],[21.93,256.2],[22.64,257.8],[24.07,258.2],[25.5,257.2],[27.29,255.9],[28.36,253.8],[29.43,251.6],[31.21,250.9],[32.64,250.5],[34.07,253.0],[35.14,256.2],[36.21,255.9],[37.64,255.4],[39.07,255.6],[40.5,254.6],[41.93,253.0],[43.36,251.1],[44.79,249.7],[46.21,247.1],[47.64,244.9],[49.07,243.3],[50.5,243.6],[51.93,243.0],[53.36,242.5],[54.79,242.9],[56.21,242.5],[56.93,241.6],[58.0,241.8],[59.07,240.9],[60.5,239.6],[61.93,236.9],[63.36,234.7],[64.43,231.0],[65.5,228.8],[66.57,227.2],[67.64,226.4],[68.71,226.9],[69.79,226.4],[71.21,227.2],[72.64,228.6],[74.07,229.0],[75.14,228.6],[76.21,228.0],[77.29,225.6],[78.36,224.3],[79.07,222.7],[80,220.3]];

const eBlack = [[0,0.081],[1.21,0.0815],[2.27,0.080],[3.34,0.0815],[5.11,0.0786],[6.18,0.074],[7.6,0.0757],[9.02,0.0757],[10.09,0.0767],[11.15,0.074],[13.28,0.0709],[14.35,0.070],[15.41,0.067],[16.83,0.068],[18.96,0.072],[21.09,0.074],[22.87,0.0794],[24.64,0.080],[27.13,0.0815],[27.84,0.074],[29.26,0.070],[30.33,0.072],[31.39,0.072],[32.46,0.075],[33.17,0.0786],[33.88,0.0762],[35.3,0.073],[36.36,0.069],[37.43,0.0642],[38.85,0.0595],[40.27,0.050],[41.34,0.045],[43.11,0.0403],[44.53,0.0355],[45.95,0.0292],[47.37,0.022],[48.79,0.0212],[50.92,0.0185],[53.05,0.0188],[54.12,0.0188],[55.89,0.022],[58.02,0.0225],[59.45,0.024],[60.87,0.0247],[62.29,0.022],[64.06,0.0196],[65.84,0.0148],[67.61,0.010],[69.03,0.0092],[70.81,0.0096],[72.23,0.0116],[73.3,0.0113],[74.36,0.0129],[76.49,0.0129],[77.91,0.0124],[80,0.0126]];
const eRed = [[0,0.0268],[2.63,0.0268],[5.47,0.0273],[6.18,0.0276],[6.89,0.034],[8.31,0.0363],[9.73,0.0363],[11.15,0.0368],[13.28,0.0375],[14.35,0.038],[15.06,0.034],[16.12,0.0363],[18.25,0.0375],[19.67,0.0387],[21.8,0.038],[22.87,0.0348],[23.93,0.0327],[25.71,0.0352],[27.48,0.038],[28.55,0.0483],[29.97,0.0518],[31.75,0.0547],[33.17,0.0595],[33.88,0.0523],[34.94,0.0483],[36.01,0.0387],[37.43,0.0355],[39.2,0.034],[40.63,0.0308],[42.4,0.030],[43.82,0.0284],[45.24,0.0273],[47.37,0.026],[49.5,0.0257],[51.63,0.0284],[53.76,0.0308],[55.89,0.0332],[57.31,0.0352],[58.02,0.0467],[60.16,0.0502],[62.29,0.0547],[64.06,0.0582],[65.13,0.0483],[66.19,0.0472],[67.61,0.0448],[69.39,0.0443],[71.16,0.0427],[72.94,0.0432],[74.0,0.0448],[75.43,0.0445],[77.2,0.0459],[78.62,0.0467],[80,0.0475]];
const eBlue = [[0,0.0092],[1.92,0.010],[5.11,0.010],[6.18,0.0129],[7.24,0.018],[8.31,0.0191],[10.09,0.0188],[11.86,0.0212],[13.28,0.0236],[13.99,0.0255],[15.06,0.0244],[16.12,0.0273],[18.25,0.0276],[20.38,0.0289],[22.16,0.0268],[23.58,0.0196],[25.36,0.0215],[27.48,0.026],[28.55,0.0355],[29.97,0.0451],[31.75,0.0475],[33.17,0.0512],[34.59,0.0387],[36.01,0.0268],[37.43,0.0244],[39.2,0.0231],[40.27,0.0204],[41.69,0.022],[43.11,0.0228],[45.24,0.0239],[46.66,0.0252],[48.79,0.026],[50.21,0.0284],[52.34,0.0308],[54.47,0.0324],[55.89,0.0335],[57.31,0.0363],[58.02,0.047],[59.45,0.0491],[60.87,0.0547],[62.64,0.0603],[64.06,0.065],[65.13,0.0566],[66.55,0.0563],[67.97,0.055],[70.1,0.0539],[71.16,0.0523],[72.94,0.0539],[74.36,0.056],[75.43,0.0547],[77.2,0.0587],[78.62,0.061],[80,0.0627]];
const eGreen = [[0,0.0045],[1.21,0.0065],[3.34,0.0056],[5.11,0.0061],[6.18,0.0088],[7.24,0.0129],[9.02,0.0113],[10.44,0.0148],[11.86,0.0177],[13.28,0.0215],[14.7,0.0252],[16.12,0.0284],[18.25,0.0284],[20.38,0.0284],[21.09,0.026],[22.16,0.026],[23.93,0.0172],[25.71,0.022],[27.48,0.026],[28.55,0.0355],[29.97,0.0451],[31.39,0.0467],[33.17,0.0483],[34.59,0.0371],[36.01,0.0276],[37.43,0.0268],[38.85,0.0252],[40.27,0.0236],[41.69,0.026],[43.11,0.0292],[44.53,0.0332],[45.95,0.0387],[47.37,0.0443],[48.79,0.0462],[50.21,0.047],[51.63,0.0486],[53.05,0.0515],[54.47,0.0515],[55.89,0.0512],[57.31,0.0547],[58.74,0.061],[60.16,0.065],[61.58,0.0722],[63.0,0.0786],[64.06,0.0805],[65.13,0.0802],[66.19,0.0821],[67.26,0.0815],[68.32,0.0824],[69.39,0.0818],[70.81,0.0823],[72.59,0.0834],[74.0,0.085],[75.07,0.0847],[76.49,0.0874],[77.2,0.0905],[78.62,0.0953],[80,0.0996]];
const eMagenta = [[0,0.0029],[1.21,0.0045],[3.34,0.0045],[5.11,0.005],[6.18,0.0069],[7.24,0.0085],[9.02,0.0056],[10.09,0.008],[11.15,0.010],[12.22,0.010],[13.28,0.0148],[14.7,0.0196],[16.12,0.0236],[18.25,0.0236],[19.67,0.0236],[21.09,0.0209],[22.16,0.0244],[23.22,0.018],[24.64,0.0196],[26.77,0.0268],[27.84,0.0324],[28.91,0.0435],[30.33,0.0443],[32.1,0.0467],[32.81,0.0435],[33.88,0.034],[34.94,0.0268],[36.01,0.0292],[37.07,0.0311],[38.85,0.030],[40.27,0.0324],[41.69,0.0355],[43.11,0.0427],[45.24,0.0499],[46.66,0.0587],[48.08,0.0658],[49.5,0.0706],[50.92,0.0706],[53.05,0.0746],[54.47,0.0767],[55.89,0.077],[56.96,0.0802],[57.31,0.083],[58.38,0.0794],[60.16,0.085],[61.58,0.0897],[62.29,0.0969],[63.35,0.0985],[64.06,0.104],[65.13,0.116],[66.19,0.121],[67.61,0.124],[68.68,0.1256],[69.39,0.1248],[70.45,0.1267],[71.52,0.1264],[72.94,0.124],[74.0,0.1235],[75.07,0.1245],[76.49,0.1288],[77.2,0.1336],[78.62,0.139],[80,0.150]];

// Panels (d),(f): day of May 2016
const mayDays = [1,2,3,4,5,6,7,8,9,10,11,12,13,14,15,16,17,18,19,20,21,22,23,24,25];
const mayTickVals = [1,7,13,19,25];
const mayTickText = ['01','07','13','19','25'];
const dBlack = [246.2,246.2,246.2,245.3,244.3,244.8,245.0,240.6,234.3,229.6,225.9,222.8,219.1,216.2,219.1,224.4,227.7,229.1,230.1,230.9,232.2,231.2,230.9,231.5,233.0];
const dRed = [227.5,227.5,227.5,227.7,228.8,228.8,228.5,230.1,232.7,232.2,231.2,229.8,230.6,232.7,235.0,235.7,240.1,244.8,248.5,251.1,253.2,253.7,254.5,254.9,254.9];
const dBlue = [219.8,219.9,220.4,221.7,224.9,225.4,225.7,230.1,234.8,236.7,236.4,235.9,238.2,242.0,243.2,243.0,245.5,250.0,254.2,256.6,259.0,259.2,260.8,261.3,261.6];
const dGreen = [198.3,199.0,199.7,204.4,210.9,210.7,211.2,219.1,227.5,232.9,234.8,235.4,242.7,249.2,249.2,247.9,248.2,251.6,254.8,257.1,259.5,260.5,263.4,264.4,264.7];
const dMagenta = [170.0,171.1,172.1,180.3,188.7,186.4,187.7,199.2,212.8,222.5,225.9,230.1,241.1,254.4,251.1,247.6,246.9,249.5,251.1,252.5,254.2,257.9,263.4,265.8,266.1];
const fBlack = [0.0514,0.0514,0.052,0.0564,0.0627,0.0606,0.0606,0.0794,0.1066,0.1275,0.1421,0.1547,0.1693,0.1827,0.1714,0.1492,0.1367,0.1317,0.1287,0.1283,0.1258,0.1296,0.1329,0.1317,0.1246];
const fRed = [0.1225,0.1225,0.1225,0.1233,0.1212,0.1221,0.1233,0.12,0.1129,0.117,0.1233,0.1287,0.1262,0.1191,0.112,0.1066,0.0899,0.0732,0.0606,0.0523,0.046,0.0447,0.0439,0.0431,0.0418];
const fBlue = [0.1526,0.1522,0.1513,0.1459,0.1367,0.1346,0.1346,0.1212,0.1066,0.1012,0.1032,0.1066,0.0982,0.0865,0.0815,0.0794,0.069,0.0523,0.0397,0.0314,0.0251,0.0242,0.0222,0.0201,0.018];
const fGreen = [0.2362,0.2341,0.2299,0.2132,0.1902,0.191,0.1894,0.1588,0.1325,0.115,0.1099,0.1087,0.0857,0.0585,0.0585,0.0606,0.0598,0.046,0.0376,0.0314,0.023,0.0196,0.0113,0.0063,0.005];
const fMagenta = [0.3428,0.3398,0.3365,0.3051,0.2746,0.2842,0.2801,0.232,0.186,0.1547,0.1442,0.1275,0.0815,0.0389,0.0502,0.0614,0.064,0.0564,0.0502,0.0472,0.0418,0.0293,0.0113,0.0029,0.0008];

// ---------- STYLE ----------
const FONT = 'Liberation Serif, Times New Roman, serif';
const COL = {k:'#000000', r:'#ff0000', g:'#008000', b:'#0000ff', m:'#ff00ff'};
const W = 1019, H = 1351;
const px = (a,b) => [a/W, b/W];
const py = (top,bot) => [1-bot/H, 1-top/H];

function pairTrace(pairs, color, name, xa, ya, extra) {
  return Object.assign({type:'scatter', mode:'lines', x: pairs.map(p=>p[0]), y: pairs.map(p=>p[1]),
    name, line:{color, width:1.8}, xaxis:xa, yaxis:ya, showlegend:false, hoverinfo:'skip'}, extra||{});
}
function dayTrace(ys, color, name, xa, ya) {
  return {type:'scatter', mode:'lines', x: mayDays, y: ys, name, line:{color, width:2}, xaxis:xa, yaxis:ya, showlegend:false, hoverinfo:'skip'};
}

const traces = [
  // (a) — top legend order: 1.4, 6.9, 18.7, 10.7, 36.5
  pairTrace(aBlack, COL.k, seriesNames[0], 'x', 'y', {showlegend:true, legend:'legend'}),
  pairTrace(aRed, COL.r, seriesNames[1], 'x', 'y', {showlegend:true, legend:'legend'}),
  pairTrace(aGreen, COL.g, seriesNames[3], 'x', 'y', {showlegend:true, legend:'legend'}),
  pairTrace(aBlue, COL.b, seriesNames[2], 'x', 'y', {showlegend:true, legend:'legend'}),
  pairTrace(aMagenta, COL.m, seriesNames[4], 'x', 'y', {showlegend:true, legend:'legend'}),
  // (b)
  pairTrace(bBlack, COL.k, seriesNames[0], 'x2', 'y2'),
  pairTrace(bRed, COL.r, seriesNames[1], 'x2', 'y2'),
  pairTrace(bGreen, COL.g, seriesNames[3], 'x2', 'y2'),
  pairTrace(bBlue, COL.b, seriesNames[2], 'x2', 'y2'),
  pairTrace(bMagenta, COL.m, seriesNames[4], 'x2', 'y2'),
  // (c) — legend2 order 1.4, 6.9, 10.7, 18.7, 36.5
  pairTrace(cBlack, COL.k, seriesNames[0], 'x3', 'y3', {showlegend:true, legend:'legend2', line:{color:COL.k,width:2}}),
  pairTrace(cRed, COL.r, seriesNames[1], 'x3', 'y3', {showlegend:true, legend:'legend2', line:{color:COL.r,width:2}}),
  pairTrace(cBlue, COL.b, seriesNames[2], 'x3', 'y3', {showlegend:true, legend:'legend2', line:{color:COL.b,width:2}}),
  pairTrace(cGreen, COL.g, seriesNames[3], 'x3', 'y3', {showlegend:true, legend:'legend2', line:{color:COL.g,width:2}}),
  pairTrace(cMagenta, COL.m, seriesNames[4], 'x3', 'y3', {showlegend:true, legend:'legend2', line:{color:COL.m,width:2}}),
  // (d)
  dayTrace(dBlack, COL.k, seriesNames[0], 'x4', 'y4'),
  dayTrace(dRed, COL.r, seriesNames[1], 'x4', 'y4'),
  dayTrace(dBlue, COL.b, seriesNames[2], 'x4', 'y4'),
  dayTrace(dGreen, COL.g, seriesNames[3], 'x4', 'y4'),
  dayTrace(dMagenta, COL.m, seriesNames[4], 'x4', 'y4'),
  // (e)
  pairTrace(eBlack, COL.k, seriesNames[0], 'x5', 'y5', {line:{color:COL.k,width:2}}),
  pairTrace(eRed, COL.r, seriesNames[1], 'x5', 'y5', {line:{color:COL.r,width:2}}),
  pairTrace(eBlue, COL.b, seriesNames[2], 'x5', 'y5', {line:{color:COL.b,width:2}}),
  pairTrace(eGreen, COL.g, seriesNames[3], 'x5', 'y5', {line:{color:COL.g,width:2}}),
  pairTrace(eMagenta, COL.m, seriesNames[4], 'x5', 'y5', {line:{color:COL.m,width:2}}),
  // (f)
  dayTrace(fBlack, COL.k, seriesNames[0], 'x6', 'y6'),
  dayTrace(fRed, COL.r, seriesNames[1], 'x6', 'y6'),
  dayTrace(fBlue, COL.b, seriesNames[2], 'x6', 'y6'),
  dayTrace(fGreen, COL.g, seriesNames[3], 'x6', 'y6'),
  dayTrace(fMagenta, COL.m, seriesNames[4], 'x6', 'y6')
];

function axis(extra, fs) {
  return Object.assign({
    showline:true, linecolor:'#000', linewidth:1.3, mirror:true,
    ticks:'inside', ticklen:7, tickwidth:1.2, tickcolor:'#000',
    showgrid:false, zeroline:false, automargin:false, ticklabelstandoff:4,
    tickfont:{family:FONT, size:fs, color:'#000'}
  }, extra);
}
function minor(d) { return {dtick:d, ticks:'inside', ticklen:4, tickwidth:1.1, tickcolor:'#000', showgrid:false}; }
function ttl(text, fs, standoff) { return {text, font:{family:FONT, size:fs, color:'#000'}, standoff}; }

const layout = {
  width: W, height: H, margin:{l:0, r:0, t:0, b:0},
  paper_bgcolor:'#fff', plot_bgcolor:'#fff',
  font:{family:FONT, color:'#000'},
  showlegend:true,
  // (a)
  xaxis: axis({domain:px(84,997), anchor:'y', range:[0,72], tickmode:'array', tickvals:monthTickVals, showticklabels:false, minor:minor(3)}, 20),
  yaxis: axis({domain:py(34,226), anchor:'x', range:[160,280], tickmode:'linear', tick0:160, dtick:40, minor:minor(20), title:ttl('T<sub>bH</sub> (K)', 20, 8)}, 20),
  // (b)
  xaxis2: axis({domain:px(80,993), anchor:'y2', range:[0,72], tickmode:'array', tickvals:monthTickVals, ticktext:monthTickText, minor:minor(3), ticklabelstandoff:0, title:ttl('Date (month-year)', 20, 5)}, 20),
  yaxis2: axis({domain:py(303,495), anchor:'x2', range:[0,0.4], tickmode:'linear', tick0:0, dtick:0.1, tickformat:'.1f', minor:minor(0.05), title:ttl('Γ<sub>H</sub>', 20, 8)}, 20),
  // (c)
  xaxis3: axis({domain:px(121,494), anchor:'y3', range:[0,80], tickmode:'array', tickvals:fallTickVals, ticktext:fallTickText, minor:minor(7.5), ticklabelstandoff:0, title:ttl('Date (day-month)', 18, 2)}, 18),
  yaxis3: axis({domain:py(584,895), anchor:'x3', range:[220,270], tickmode:'linear', tick0:220, dtick:10, minor:minor(5), title:ttl('T<sub>bH</sub> (K)', 18, 8)}, 18),
  // (d)
  xaxis4: axis({domain:px(597,978), anchor:'y4', range:[1,25], tickmode:'array', tickvals:mayTickVals, ticktext:mayTickText, minor:minor(3), ticklabelstandoff:0, title:ttl('Date (day of May)', 18, 2)}, 18),
  yaxis4: axis({domain:py(585,903), anchor:'x4', range:[170,270], tickmode:'linear', tick0:180, dtick:20, minor:minor(10), title:ttl('T<sub>bH</sub> (K)', 18, 6)}, 18),
  // (e)
  xaxis5: axis({domain:px(121,497), anchor:'y5', range:[0,80], tickmode:'array', tickvals:fallTickVals, ticktext:fallTickText, minor:minor(7.5), ticklabelstandoff:0, title:ttl('Date (day-month)', 18, 4)}, 18),
  yaxis5: axis({domain:py(987,1301), anchor:'x5', range:[0,0.15], tickmode:'linear', tick0:0, dtick:0.05, tickformat:'.2f', minor:minor(0.025), title:ttl('Γ<sub>H</sub>', 18, 8)}, 18),
  // (f)
  xaxis6: axis({domain:px(594,977), anchor:'y6', range:[1,25], tickmode:'array', tickvals:mayTickVals, ticktext:mayTickText, minor:minor(3), ticklabelstandoff:0, title:ttl('Date (day of May)', 18, 5)}, 18),
  yaxis6: axis({domain:py(986,1305), anchor:'x6', range:[0,0.4], tickmode:'linear', tick0:0, dtick:0.1, tickformat:'.1f', minor:minor(0.05), title:ttl('Γ<sub>H</sub>', 18, 8)}, 18),
  legend: {orientation:'h', x:188/W, xanchor:'left', y:1, yanchor:'top', font:{family:FONT, size:20, color:'#000'},
           bgcolor:'rgba(0,0,0,0)', itemwidth:45, entrywidth:80, entrywidthmode:'pixels', tracegroupgap:0},
  legend2: {orientation:'v', x:135/W, xanchor:'left', y:1-758/H, yanchor:'top', font:{family:FONT, size:16, color:'#000'},
            bgcolor:'rgba(0,0,0,0)', itemwidth:40, tracegroupgap:0},
  annotations: [
    ['(a)', 967, 210, 20], ['(b)', 962, 325, 20],
    ['Freezing-2015', 316, 603, 18], ['(c)', 468, 605, 18],
    ['(d)', 629, 604, 18], ['Thawing-2016', 797, 600, 18],
    ['(e)', 152, 1013, 18], ['Freezing-2015', 316, 1006, 18],
    ['Thawing-2016', 795, 1008, 18], ['(f)', 952, 1012, 18]
  ].map(a => ({text:a[0], x:a[1]/W, y:1-a[2]/H, xref:'paper', yref:'paper', xanchor:'center', yanchor:'middle',
               showarrow:false, font:{family:FONT, size:a[3], color:'#000'}}))
};

Plotly.newPlot('chart', traces, layout, {staticPlot:true, displayModeBar:false});
</script>
</body></html>
